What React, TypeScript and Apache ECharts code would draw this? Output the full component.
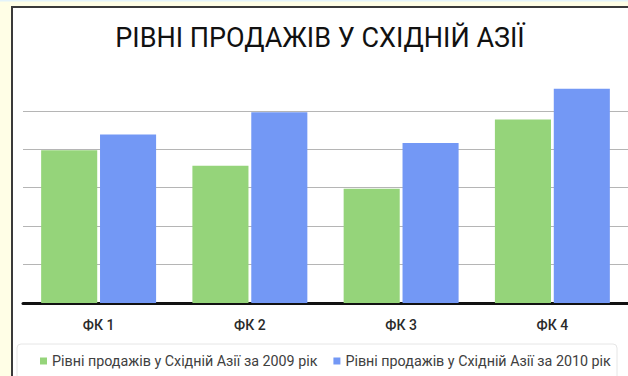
import React, { useEffect, useRef } from "react";
import * as echarts from "echarts";

const categories = ["ФК 1", "ФК 2", "ФК 3", "ФК 4"];
const seriesNames = [
  "Рівні продажів у Східній Азії за 2009 рік",
  "Рівні продажів у Східній Азії за 2010 рік",
];
const sales2009 = [3.97, 3.57, 2.97, 4.77];
const sales2010 = [4.38, 4.96, 4.16, 5.57];
const titleText = "РІВНІ ПРОДАЖІВ У СХІДНІЙ АЗІЇ";

export default function App() {
  const ref = useRef<HTMLDivElement>(null);
  useEffect(() => {
    if (!ref.current) return;
    const chart = echarts.init(ref.current, null, { renderer: "svg" });
    chart.setOption({
      animation: false,
      backgroundColor: "#fffee6",
      title: {
        text: titleText,
        left: 315,
        top: 33,
        textAlign: "center",
        textVerticalAlign: "middle",
        textStyle: {
          fontFamily: "Roboto",
          fontSize: 27,
          fontWeight: "normal",
          color: "#111111",
        },
      },
      graphic: [
        { type: "rect", z: -10, shape: { x: 0, y: 0, width: 628, height: 1.5 }, style: { fill: "#e4f3fa" } },
        {
          type: "rect",
          z: -9,
          shape: { x: 12, y: 7, width: 630, height: 380 },
          style: { fill: "#ffffff", stroke: "#3a3a3a", lineWidth: 2 },
        },
        {
          type: "rect",
          z: -8,
          shape: { x: 17, y: 344, width: 600, height: 44, r: 4 },
          style: { fill: "#ffffff", stroke: "#e6e6e6", lineWidth: 1 },
        },
      ],
      legend: {
        left: 35,
        top: 349,
        itemWidth: 7,
        itemHeight: 7,
        itemGap: 16,
        icon: "rect",
        textStyle: { fontFamily: "Roboto", fontSize: 14.3, color: "#404040" },
        data: seriesNames,
      },
      grid: { left: 23, top: 80, width: 608, height: 223 },
      xAxis: {
        type: "category",
        data: categories,
        axisLine: { show: true, lineStyle: { color: "#111111", width: 3 } },
        axisTick: { show: false },
        axisLabel: {
          margin: 15,
          fontFamily: "Roboto",
          fontSize: 14,
          fontWeight: 500,
          color: "#2a2a2a",
        },
      },
      yAxis: {
        type: "value",
        min: 0,
        max: 5.8,
        interval: 1,
        axisLine: { show: false },
        axisTick: { show: false },
        axisLabel: { show: false },
        splitLine: {
          show: true,
          showMinLine: false,
          showMaxLine: false,
          lineStyle: { color: "#b5b5b5", width: 1 },
        },
      },
      series: [
        {
          name: seriesNames[0],
          type: "bar",
          data: sales2009,
          itemStyle: { color: "#95d47a" },
          barGap: "5%",
          barCategoryGap: "24%",
        },
        {
          name: seriesNames[1],
          type: "bar",
          data: sales2010,
          itemStyle: { color: "#7398f5" },
          barGap: "5%",
          barCategoryGap: "24%",
        },
      ],
    });
    return () => chart.dispose();
  }, []);
  return (
    <div
      ref={ref}
      style={{ position: "absolute", left: 0, top: 0, width: 628, height: 376 }}
    />
  );
}
